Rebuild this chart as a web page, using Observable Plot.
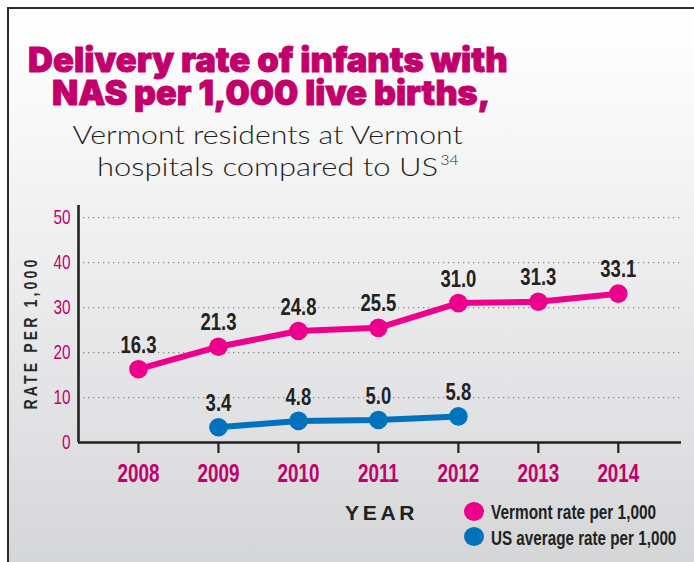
<!DOCTYPE html>
<html>
<head>
<meta charset="utf-8">
<script src="https://cdn.jsdelivr.net/npm/d3@7"></script>
<script src="https://cdn.jsdelivr.net/npm/@observablehq/plot@0.6"></script>
<style>
  html, body { margin: 0; padding: 0; background: #fff; overflow: hidden; }
  #wrap { position: relative; width: 694px; height: 562px; overflow: hidden; background: #fff; }
  #box { position: absolute; left: 7px; top: 7px; width: 720px; height: 600px;
         border-left: 2px solid #2b2b2b; border-top: 2px solid #2b2b2b;
         background: linear-gradient(to bottom, #ffffff 0px, #f4f4f5 170px, #d5d6d8 555px); }
  .line { position: absolute; width: 600px; text-align: center; white-space: nowrap; overflow: visible; }
  .line > span { display: inline-block; transform-origin: 50% 50%; }
  .title { font-family: Inter, "Liberation Sans", sans-serif; font-weight: 900;
           font-size: 34px; line-height: 31px; height: 31px; color: #c2006c;
           -webkit-text-stroke: 0.9px #c2006c; }
  .sub { font-family: Lato, "Open Sans", sans-serif; font-weight: 300;
         font-size: 26px; line-height: 26px; color: #1e1e1e; }
  .sub sup { font-size: 13px; vertical-align: 11px; line-height: 0; margin-left: 2px; }
  #chart { position: absolute; left: 0; top: 195px; }
  #ylab { position: absolute; font-family: "Liberation Sans", sans-serif; font-weight: bold;
          font-size: 18px; line-height: 18px; letter-spacing: 4px; color: #2a2a2a; white-space: nowrap;
          transform-origin: 50% 50%; }
  #yearlab { position: absolute; left: 345px; top: 502px; font-family: "Liberation Sans", sans-serif;
             font-weight: bold; font-size: 21px; line-height: 21px; letter-spacing: 3.7px; color: #222; }
  .legtxt { position: absolute; left: 491px; font-family: "Liberation Sans", sans-serif; font-weight: bold;
            font-size: 19.5px; line-height: 19.5px; color: #222; white-space: nowrap; transform-origin: 0 50%; }
  .dot { position: absolute; left: 464px; width: 20px; height: 19px; border-radius: 50%; }
</style>
</head>
<body>
<div id="wrap">
  <div id="box"></div>
  <div class="line title" style="left:-32px; top:44px"><span id="t1">Delivery rate of infants with</span></div>
  <div class="line title" style="left:-29px; top:77px"><span id="t2">NAS per 1,000 live births,</span></div>
  <div class="line sub" style="left:-32px; top:121px"><span id="s1">Vermont residents at Vermont</span></div>
  <div class="line sub" style="left:-22px; top:153px"><span id="s2">hospitals compared to US<sup>34</sup></span></div>
  <div id="chart"></div>
  <div id="ylab">RATE PER 1,000</div>
  <div id="yearlab">YEAR</div>
  <div class="dot" style="top:501.5px; background:#ec008c"></div>
  <div class="dot" style="top:526.5px; background:#0072bc"></div>
  <div class="legtxt" id="l1" style="top:502.5px">Vermont rate per 1,000</div>
  <div class="legtxt" id="l2" style="top:528.5px">US average rate per 1,000</div>
</div>
<script>
const years = [2008, 2009, 2010, 2011, 2012, 2013, 2014];
const vermontRate = [16.3, 21.3, 24.8, 25.5, 31.0, 31.3, 33.1];
const usYears = [2009, 2010, 2011, 2012];
const usRate = [3.4, 4.8, 5.0, 5.8];
const yTicks = [0, 10, 20, 30, 40, 50];
const gridTicks = [10, 20, 30, 40, 50];

const vt = years.map((y, i) => ({year: y, rate: vermontRate[i]}));
const us = usYears.map((y, i) => ({year: y, rate: usRate[i]}));

const magenta = "#ec008c";
const blue = "#0072bc";
const tickColor = "#c2006c";
const sans = "Liberation Sans, Arial, sans-serif";

const chart = Plot.plot({
  width: 694,
  height: 292,
  marginTop: 10,
  marginBottom: 45,
  marginLeft: 78,
  marginRight: 13,
  style: {background: "transparent", overflow: "visible"},
  x: {type: "linear", domain: [2007.25, 2014.79]},
  y: {domain: [0, 52.7]},
  marks: [
    Plot.gridY(gridTicks, {stroke: "#8a8a8a", strokeOpacity: 1, strokeWidth: 1.2, strokeDasharray: "1.3,3.7"}),
    Plot.axisX(years, {tickSize: 11, tickPadding: 10, stroke: "#222", strokeWidth: 2.2,
      tickFormat: d => String(d), fill: tickColor, fontSize: 26.5, fontWeight: "bold",
      fontFamily: sans, label: null}),
    Plot.axisY(yTicks, {tickSize: 0, tickPadding: 8, fill: tickColor, fontSize: 21,
      fontFamily: sans, label: null}),
    Plot.ruleY([0], {stroke: "#222", strokeWidth: 2.6}),
    Plot.ruleX([2007.25], {y1: 0, y2: 52.7, stroke: "#222", strokeWidth: 2.6}),
    Plot.line(vt, {x: "year", y: "rate", stroke: magenta, strokeWidth: 6}),
    Plot.dot(vt, {x: "year", y: "rate", r: 9.3, fill: magenta}),
    Plot.line(us, {x: "year", y: "rate", stroke: blue, strokeWidth: 6}),
    Plot.dot(us, {x: "year", y: "rate", r: 9.3, fill: blue}),
    Plot.text(vt, {x: "year", y: "rate", text: d => d.rate.toFixed(1), dy: -24, fontSize: 23.7,
      fontWeight: "bold", fill: "#222", fontFamily: sans}),
    Plot.text(us, {x: "year", y: "rate", text: d => d.rate.toFixed(1), dy: -24, fontSize: 23.7,
      fontWeight: "bold", fill: "#222", fontFamily: sans})
  ]
});
document.getElementById("chart").appendChild(chart);

// condense SVG texts horizontally (reference uses a condensed face)
function condense(sel, s) {
  chart.querySelectorAll(sel).forEach(t => {
    const w = t.getComputedTextLength();
    t.setAttribute("textLength", (w * s).toFixed(2));
    t.setAttribute("lengthAdjust", "spacingAndGlyphs");
  });
}
condense('g[aria-label="x-axis tick label"] text', 0.71);
condense('g[aria-label="y-axis tick label"] text', 0.73);
condense('g[aria-label="text"] text', 0.78);

// fit HTML texts to the reference widths
function fit(id, target) {
  const el = document.getElementById(id);
  const w = el.offsetWidth;
  el.style.transform = `scaleX(${target / w})`;
  return el;
}
fit("t1", 480);
fit("t2", 438);
fit("s1", 390);
fit("s2", 361);
fit("l1", 165);
fit("l2", 185);

const yl = document.getElementById("ylab");
const yw = yl.offsetWidth, yh = yl.offsetHeight;
yl.style.left = (31 - yw / 2) + "px";
yl.style.top = (333 - yh / 2) + "px";
yl.style.transform = `rotate(-90deg) scaleX(${153 / yw})`;
</script>
</body>
</html>
